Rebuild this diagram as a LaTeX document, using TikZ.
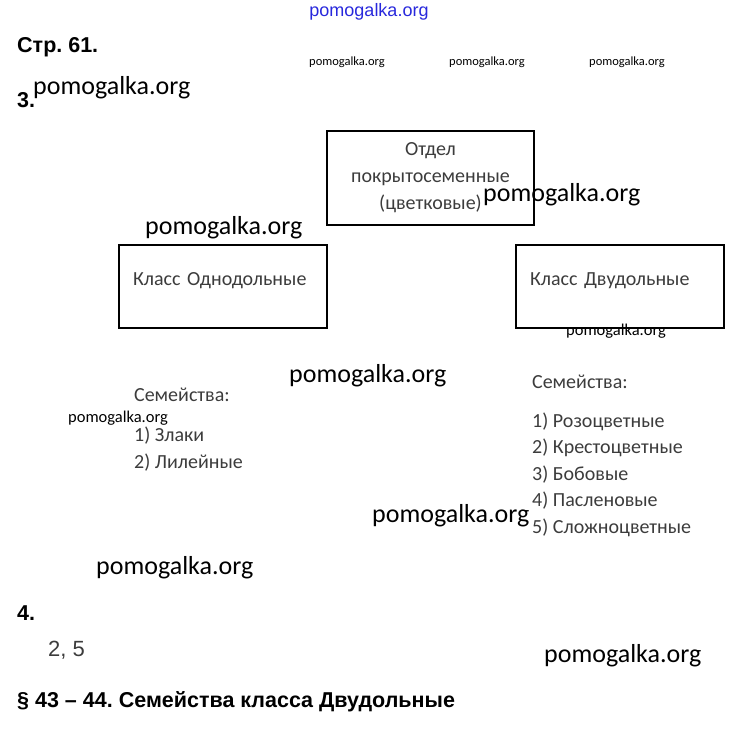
\documentclass[tikz,border=0pt]{standalone}
\usepackage{fontspec}
\setmainfont{Carlito}
\newfontfamily\arialfont{Liberation Sans}
\usepackage{tikz}
\frenchspacing

\definecolor{boxtext}{RGB}{60,60,60}
\definecolor{sitebl}{RGB}{40,40,220}

\begin{document}
\begin{tikzpicture}
          [x=1pt,y=-1pt,
          box/.style={shape=rectangle,draw=black,text=boxtext,font=\fontsize{20}{27}\selectfont,line width=1.4pt},
          klass/.style={box,minimum width=208pt,minimum height=83pt,text width=180pt,align=left,inner xsep=14pt,text depth=14pt},
          item/.style={anchor=west,inner sep=0pt,text=boxtext,font=\fontsize{20}{22}\selectfont},
          head/.style={anchor=west,inner sep=0pt,font=\arialfont\bfseries\fontsize{21.5}{24}\selectfont},
          wm/.style={inner sep=0pt,font=\fontsize{26}{28}\selectfont},
          wmsmall/.style={inner sep=0pt,font=\fontsize{12.5}{14}\selectfont}]

          \useasboundingbox (0,0) rectangle (736,731);

            % headings
            \node (site) [inner sep=0pt,text=sitebl,font=\arialfont\fontsize{18}{19}\selectfont] at (369,12) {pomogalka.org};
            \node (page) [head] at (17,47) {Стр. 61.};
            \node (task3) [head] at (17,100) {3.};
            \node (task4) [head] at (17,613) {4.};
            \node (answer4) [anchor=west,inner sep=0pt,text=boxtext,font=\arialfont\fontsize{22}{24}\selectfont] at (48,650) {2, 5};
            \node (section) [head] at (17,702) {§ 43 – 44. Семейства класса Двудольные};

            % boxes
            \node (otdel) [box,minimum width=207pt,minimum height=94pt,align=center] at (430.5,178) {Отдел\\покрытосеменные\\(цветковые)};
            \node (mono) [klass] at (223,286.5) {Класс Однодольные};
            \node (di) [klass] at (620,286.5) {Класс Двудольные};

            % families
            \node (monofam) [item] at (134,395) {Семейства:};
            \node (mono1) [item] at (134,436) {1) Злаки};
            \node (mono2) [item] at (134,463) {2) Лилейные};
            \node (difam) [item] at (532,382) {Семейства:};
            \node (di1) [item] at (532,422) {1) Розоцветные};
            \node (di2) [item] at (532,448) {2) Крестоцветные};
            \node (di3) [item] at (532,475) {3) Бобовые};
            \node (di4) [item] at (532,501) {4) Пасленовые};
            \node (di5) [item] at (532,528) {5) Сложноцветные};

            % watermarks
            \node (wm1) [wmsmall] at (347,62) {pomogalka.org};
            \node (wm2) [wmsmall] at (487,62) {pomogalka.org};
            \node (wm3) [wmsmall] at (627,62) {pomogalka.org};
            \node (wm4) [wm,anchor=west] at (33,88) {pomogalka.org};
            \node (wm5) [wm,anchor=west] at (483,195) {pomogalka.org};
            \node (wm6) [wm,anchor=west] at (145,228) {pomogalka.org};
            \node (wm7) [wmsmall,font=\fontsize{16.5}{18}\selectfont] at (616,331) {pomogalka.org};
            \node (wm8) [wm,anchor=west] at (289,376) {pomogalka.org};
            \node (wm9) [wmsmall,font=\fontsize{16.5}{18}\selectfont,anchor=west] at (68,418) {pomogalka.org};
            \node (wm10) [wm,anchor=west] at (372,516) {pomogalka.org};
            \node (wm11) [wm,anchor=west] at (96,568) {pomogalka.org};
            \node (wm12) [wm,anchor=west] at (544,656) {pomogalka.org};

        \end{tikzpicture}
\end{document}
